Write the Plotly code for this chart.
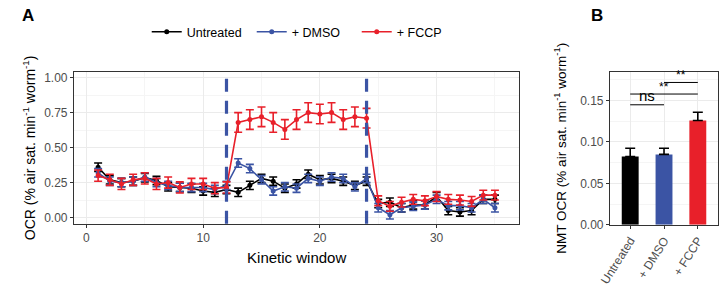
import plotly.graph_objects as go

# ---------------- data ----------------
windows = list(range(1, 36))
untreated = [0.36, 0.27, 0.25, 0.26, 0.285, 0.265, 0.22, 0.215, 0.21, 0.19, 0.18, 0.20,
             0.18, 0.23, 0.28, 0.26, 0.21, 0.24, 0.31, 0.27, 0.28, 0.26, 0.23, 0.26,
             0.10, 0.11, 0.07, 0.09, 0.09, 0.15, 0.05, 0.04, 0.05, 0.13, 0.13]
untreated_err = [0.03] * 35
dmso = [0.32, 0.26, 0.25, 0.26, 0.29, 0.25, 0.23, 0.215, 0.215, 0.215, 0.20, 0.23,
        0.39, 0.35, 0.27, 0.19, 0.22, 0.21, 0.28, 0.26, 0.29, 0.28, 0.22, 0.28,
        0.07, 0.02, 0.07, 0.08, 0.09, 0.13, 0.085, 0.085, 0.07, 0.13, 0.07]
dmso_err = [0.03] * 35
fccp = [0.30, 0.27, 0.24, 0.27, 0.28, 0.24, 0.25, 0.215, 0.24, 0.24, 0.21, 0.215,
        0.68, 0.70, 0.72, 0.68, 0.63, 0.70, 0.75, 0.74, 0.75, 0.70, 0.72, 0.71,
        0.12, 0.08, 0.11, 0.13, 0.12, 0.15, 0.13, 0.125, 0.115, 0.16, 0.16]
fccp_err = [0.04] * 12 + [0.07] * 12 + [0.035] * 11
treatment_windows = [12, 24]

groups = ["Untreated", "+ DMSO", "+ FCCP"]
nmt_ocr = [0.0825, 0.085, 0.126]
nmt_err = [0.010, 0.0075, 0.010]
sig_pairs = [(0, 1), (0, 2), (1, 2)]
sig_labels = ["ns", "**", "**"]
sig_heights = [0.145, 0.158, 0.172]

colors = ["#000000", "#3B54A4", "#E8202A"]
W, H = 724, 292
FONT = "Liberation Sans, Arial, sans-serif"

fig = go.Figure()

series = [(untreated, untreated_err), (dmso, dmso_err), (fccp, fccp_err)]
for name, (vals, errs), c in zip(groups, series, colors):
    fig.add_trace(go.Scatter(
        x=windows, y=vals, name=name, mode="lines+markers",
        line=dict(color=c, width=1.6), marker=dict(color=c, size=5),
        error_y=dict(type="data", array=errs, color=c, thickness=1.6, width=4),
        xaxis="x", yaxis="y"))

fig.add_trace(go.Bar(
    x=groups, y=nmt_ocr, marker=dict(color=colors, line=dict(width=0)),
    width=0.5, showlegend=False,
    error_y=dict(type="data", symmetric=False, array=nmt_err,
                 arrayminus=[0] * 3, color="#000000", thickness=1.6, width=5),
    xaxis="x2", yaxis="y2"))

shapes = []
for t in treatment_windows:
    shapes.append(dict(type="line", xref="x", yref="y domain", x0=t, x1=t, y0=0, y1=1,
                       line=dict(color="#3B54A4", width=3.2, dash="13px,9px")))
annotations = []
for (a, b), lab, h in zip(sig_pairs, sig_labels, sig_heights):
    shapes.append(dict(type="line", xref="x2", yref="y2", x0=a, x1=b, y0=h, y1=h,
                       line=dict(color="#000000", width=1)))
    annotations.append(dict(x=(a + b) / 2, y=h, xref="x2", yref="y2", text=lab,
                            showarrow=False, yanchor="bottom", yshift=-2 if lab == "**" else -1,
                            font=dict(size=15 if lab == "ns" else 12, color="#000000", family=FONT)))

annotations += [
    dict(text="<b>A</b>", x=8 / W, y=1 - 3 / H, xref="paper", yref="paper",
         xanchor="left", yanchor="top", showarrow=False, font=dict(size=17, color="#000", family=FONT)),
    dict(text="<b>B</b>", x=587 / W, y=1 - 3 / H, xref="paper", yref="paper",
         xanchor="left", yanchor="top", showarrow=False, font=dict(size=17, color="#000", family=FONT)),
]

axis_common = dict(showline=True, mirror=True, linecolor="#333333", linewidth=1,
                   ticks="outside", ticklen=3, tickcolor="#333333", zeroline=False,
                   gridcolor="#EBEBEB", gridwidth=1,
                   tickfont=dict(size=12, color="#4D4D4D", family=FONT))

fig.update_layout(
    width=W, height=H, margin=dict(l=0, r=0, t=0, b=0),
    paper_bgcolor="white", plot_bgcolor="white",
    font=dict(family=FONT, color="#000"),
    shapes=shapes, annotations=annotations,
    showlegend=True,
    legend=dict(orientation="h", x=137 / W, y=1 - 32 / H, xanchor="left", yanchor="middle",
                font=dict(size=12.5, color="#000", family=FONT), itemwidth=30,
                entrywidth=60, entrywidthmode="pixels",
                bgcolor="rgba(0,0,0,0)"),
    xaxis=dict(axis_common, domain=[63 / W, 516 / W], range=[-1.07, 37.1], anchor="y",
               tickvals=[0, 10, 20, 30],
               minor=dict(dtick=5, tick0=5, showgrid=True, gridcolor="#F5F5F5", gridwidth=0.6, ticks=""),
               title=dict(text="Kinetic window", font=dict(size=15, color="#000"), standoff=8)),
    yaxis=dict(axis_common, domain=[1 - 229 / H, 1 - 73 / H], range=[-0.044, 1.04], anchor="x",
               tickvals=[0, 0.25, 0.5, 0.75, 1.0], tickformat=".2f",
               minor=dict(dtick=0.125, tick0=0.125, showgrid=True, gridcolor="#F5F5F5", gridwidth=0.6, ticks=""),
               title=dict(text="OCR (% air sat. min<sup>-1</sup> worm<sup>-1</sup>)",
                          font=dict(size=14, color="#000"), standoff=5)),
    xaxis2=dict(axis_common, domain=[608 / W, 718 / W], range=[-0.6, 2.6], anchor="y2",
                tickangle=-58, showgrid=True),
    yaxis2=dict(axis_common, domain=[1 - 230 / H, 1 - 72.7 / H], range=[0, 0.185], anchor="x2",
                tickvals=[0, 0.05, 0.10, 0.15], tickformat=".2f",
                minor=dict(dtick=0.025, tick0=0.025, showgrid=True, gridcolor="#F5F5F5", gridwidth=0.6, ticks=""),
                title=dict(text="NMT OCR (% air sat. min<sup>-1</sup> worm<sup>-1</sup>)",
                           font=dict(size=13.5, color="#000"), standoff=10)),
)

fig.write_html("out.html")
